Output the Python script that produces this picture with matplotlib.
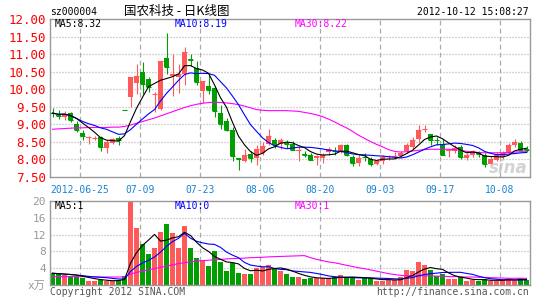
import matplotlib.pyplot as plt
import matplotlib.transforms as mtransforms
import pandas as pd

plt.rcParams['font.family'] = ['DejaVu Sans Mono', 'Noto Sans CJK SC']

######################
## DATOS DEL GRÁFICO ##
######################

fechas_ticks = [5, 15, 25, 35, 45, 55, 65, 75]
etiquetas_fechas = ['2012-06-25', '07-09', '07-23', '08-06', '08-20', '09-03', '09-17', '10-08']

apertura = [9.33, 9.27, 9.20, 9.33, 9.01, 8.76, 8.61, 8.61, 8.64, 8.32,
            8.47, 8.60, 9.41, 9.79, 10.17, 10.48, 10.29, 9.85, 9.44, 10.89,
            10.38, 10.34, 10.44, 10.85, 10.61, 9.94, 10.10, 10.04, 9.32, 9.09,
            8.83, 8.03, 7.95, 8.16, 8.05, 8.18, 8.43, 8.56, 8.45, 8.46,
            8.43, 8.24, 8.15, 8.14, 8.03, 8.05, 8.21, 8.24, 8.21, 8.40,
            8.07, 7.90, 8.08, 8.02, 7.88, 7.95, 8.08, 8.08, 8.09, 8.24,
            8.35, 8.59, 8.87, 8.73, 8.55, 8.45, 8.25, 8.24, 8.35, 8.05,
            8.12, 8.17, 8.12, 7.88, 7.97, 8.07, 8.21, 8.40, 8.47, 8.30]
maximo = [9.47, 9.40, 9.37, 9.35, 9.09, 8.83, 8.68, 8.68, 8.68, 8.54,
          8.62, 8.66, 9.41, 10.35, 10.72, 10.77, 10.34, 9.91, 10.81, 11.59,
          11.00, 10.72, 11.21, 11.00, 10.81, 10.24, 10.44, 10.10, 9.54, 9.19,
          8.92, 8.05, 8.30, 8.24, 8.40, 8.49, 8.87, 8.62, 8.62, 8.56,
          8.52, 8.35, 8.24, 8.18, 8.12, 8.18, 8.35, 8.35, 8.45, 8.45,
          8.12, 8.12, 8.19, 8.07, 7.99, 8.12, 8.14, 8.21, 8.24, 8.47,
          8.64, 8.97, 8.97, 8.73, 8.64, 8.59, 8.30, 8.40, 8.40, 8.18,
          8.28, 8.24, 8.18, 8.09, 8.21, 8.24, 8.47, 8.59, 8.52, 8.37]
minimo = [9.22, 9.15, 9.12, 9.07, 8.78, 8.56, 8.45, 8.56, 8.24, 8.18,
          8.45, 8.40, 9.41, 9.49, 9.87, 9.87, 9.91, 9.35, 9.40, 10.44,
          9.82, 9.89, 10.13, 10.67, 10.13, 9.60, 9.85, 9.20, 8.87, 8.80,
          7.95, 7.69, 7.94, 7.93, 7.83, 8.12, 8.40, 8.33, 8.30, 8.33,
          8.26, 7.95, 8.07, 7.97, 7.83, 7.90, 8.14, 8.14, 8.18, 8.09,
          7.80, 7.80, 7.95, 7.80, 7.83, 7.88, 7.99, 8.02, 8.07, 8.18,
          8.30, 8.49, 8.78, 8.40, 8.40, 8.14, 8.07, 8.18, 8.02, 7.99,
          8.07, 8.07, 7.78, 7.83, 7.95, 8.02, 8.18, 8.35, 8.24, 8.22]
cierre = [9.32, 9.25, 9.30, 9.13, 8.84, 8.66, 8.63, 8.62, 8.35, 8.49,
          8.59, 8.55, 9.41, 10.35, 10.39, 10.15, 10.06, 9.87, 10.81, 10.63,
          10.42, 10.44, 11.05, 10.83, 10.20, 10.22, 9.98, 9.39, 9.00, 8.83,
          8.09, 8.02, 8.14, 8.04, 8.30, 8.37, 8.66, 8.43, 8.56, 8.44,
          8.28, 8.27, 8.14, 7.99, 8.09, 8.14, 8.30, 8.23, 8.40, 8.12,
          7.90, 8.05, 8.07, 7.88, 7.95, 8.07, 8.09, 8.09, 8.18, 8.40,
          8.54, 8.84, 8.88, 8.54, 8.54, 8.14, 8.27, 8.33, 8.07, 8.14,
          8.24, 8.16, 7.86, 8.02, 8.12, 8.18, 8.40, 8.49, 8.26, 8.26]
ma30_precio = [8.86, 8.87, 8.88, 8.89, 8.90, 8.90, 8.91, 8.91, 8.91, 8.91,
               8.92, 8.92, 8.94, 8.98, 9.03, 9.08, 9.13, 9.18, 9.24, 9.30,
               9.36, 9.42, 9.48, 9.53, 9.57, 9.60, 9.62, 9.63, 9.62, 9.61,
               9.59, 9.56, 9.52, 9.47, 9.42, 9.40, 9.39, 9.39, 9.39, 9.39,
               9.38, 9.37, 9.34, 9.31, 9.27, 9.22, 9.15, 9.07, 8.98, 8.90,
               8.80, 8.69, 8.60, 8.51, 8.43, 8.36, 8.28, 8.23, 8.21, 8.22,
               8.24, 8.26, 8.28, 8.29, 8.29, 8.29, 8.29, 8.28, 8.26, 8.23,
               8.21, 8.20, 8.19, 8.19, 8.19, 8.19, 8.20, 8.21, 8.22, 8.22]

volumen = [2.8, 2.6, 2.4, 2.2, 1.8, 1.6, 1.0, 1.0, 1.1, 1.0,
           1.0, 1.2, 2.2, 20.5, 13.6, 9.7, 7.5, 8.9, 12.6, 14.6,
           12.5, 8.9, 14.1, 8.9, 6.5, 6.0, 4.5, 8.1, 5.5, 3.4,
           5.2, 2.9, 2.7, 2.7, 4.1, 4.3, 4.8, 3.7, 3.4, 2.7,
           2.0, 2.0, 1.4, 1.6, 1.6, 1.6, 1.6, 2.0, 2.3, 1.8,
           1.8, 1.2, 1.6, 1.6, 1.0, 1.0, 1.2, 1.2, 1.8, 3.6,
           3.4, 5.5, 4.7, 3.6, 2.2, 2.6, 1.4, 1.4, 1.8, 1.0,
           1.2, 1.0, 1.4, 1.0, 1.0, 1.2, 1.6, 1.0, 1.6, 1.2]
ma30_volumen = [2.0, 2.0, 2.0, 2.0, 2.0, 2.0, 1.95, 1.95, 1.9, 1.9,
                1.9, 1.9, 1.95, 2.6, 3.0, 3.3, 3.6, 3.9, 4.2, 4.5,
                4.8, 5.1, 5.3, 5.5, 5.7, 5.8, 5.9, 6.0, 6.1, 6.2,
                6.3, 6.35, 6.4, 6.5, 6.55, 6.6, 6.7, 6.75, 6.8, 6.85,
                6.9, 6.95, 7.0, 6.5, 6.1, 5.8, 5.5, 5.3, 5.0, 4.7,
                4.4, 4.1, 3.9, 3.6, 3.3, 3.0, 2.7, 2.5, 2.3, 2.2,
                2.2, 2.2, 2.2, 2.2, 2.1, 2.1, 2.0, 2.0, 1.95, 1.9,
                1.9, 1.85, 1.8, 1.75, 1.7, 1.65, 1.6, 1.6, 1.6, 1.6]

rojo = '#ff5a5a'
verde = '#009e00'
gris = '#999999'
rejilla = '#aaaaaa'

df = pd.DataFrame({'o': apertura, 'h': maximo, 'l': minimo, 'c': cierre, 'v': volumen})
dias = list(range(len(df)))
colores = [rojo if c > o else verde for o, c in zip(df['o'], df['c'])]
ma5 = df['c'].rolling(5, min_periods=1).mean()
ma10 = df['c'].rolling(10, min_periods=1).mean()
vma5 = df['v'].rolling(5, min_periods=1).mean()
vma10 = df['v'].rolling(10, min_periods=1).mean()

W, H = 545, 300
fig = plt.figure(figsize=(W / 100, H / 100), dpi=100)
fig.patch.set_facecolor('white')

def px(x, y):
    return x / W, 1 - y / H

off = 2.5 / 6
ax = fig.add_axes([50 / W, 1 - 177 / H, 480 / W, 158 / H])
axv = fig.add_axes([50 / W, 1 - 285 / H, 480 / W, 84 / H])

for a in (ax, axv):
    a.set_xlim(-off, len(dias) - off)
    for s in a.spines.values():
        s.set_color(gris)
        s.set_linewidth(1)
    a.set_xticks([])
    a.tick_params(axis='y', length=0, pad=3)
    for f in fechas_ticks:
        a.axvline(f - off, color=rejilla, lw=0.9, ls=(0, (3.8, 2.6)), zorder=0)

######################
## VELAS ##
######################
ax.set_ylim(7.5, 12.0)
niveles = [7.5 + 0.5 * k for k in range(10)]
for n in niveles[1:-1]:
    ax.axhline(n, color=rejilla, lw=0.9, ls=(0, (0.8, 1.6)), zorder=0)
ax.set_yticks(niveles)
ax.set_yticklabels(['%.2f' % n for n in niveles], color='red', fontsize=9)

ax.vlines(dias, df['l'], df['h'], colors=colores, lw=0.8, zorder=2)
cuerpo = [abs(c - o) for o, c in zip(df['o'], df['c'])]
base = [min(o, c) for o, c in zip(df['o'], df['c'])]
ax.bar(dias, cuerpo, bottom=base, width=0.75, color=colores, lw=0, zorder=3)
ax.hlines(df['c'], [d - 0.375 for d in dias], [d + 0.375 for d in dias], colors=colores, lw=0.8, zorder=3)

ax.plot(dias, ma30_precio, color='#ff00ff', lw=0.8, zorder=4)
ax.plot(dias, ma10, color='#0000ff', lw=0.8, zorder=4)
ax.plot(dias, ma5, color='black', lw=0.8, zorder=4)

ax.text(0.995, 0.06, 'sina', transform=ax.transAxes, ha='right', va='center', fontsize=12,
        family='DejaVu Sans', style='italic', weight='bold', color='#c8c8c8', alpha=0.8, zorder=5)

######################
## VOLUMEN ##
######################
axv.set_ylim(0, 20)
for n in [4, 8, 12, 16]:
    axv.axhline(n, color=rejilla, lw=0.9, ls=(0, (0.8, 1.6)), zorder=0)
axv.set_yticks([0, 4, 8, 12, 16, 20])
axv.set_yticklabels(['x万', '4', '8', '12', '16', '20'], color=gris, fontsize=8)
axv.bar(dias, df['v'], width=0.8, color=colores, lw=0, zorder=2)
axv.plot(dias, ma30_volumen, color='#ff00ff', lw=0.8, zorder=4)
axv.plot(dias, vma10, color='#0000ff', lw=0.8, zorder=4)
axv.plot(dias, vma5, color='black', lw=0.8, zorder=4)

# fechas
trans = mtransforms.blended_transform_factory(ax.transData, fig.transFigure)
for f, t in zip(fechas_ticks, etiquetas_fechas):
    ax.text(f - off, 1 - 190 / H, t, transform=trans, ha='center', va='center',
            fontsize=7, color='#1a84d4')

######################
## TEXTOS ##
######################
fig.text(*px(50, 12), 'sz000004', ha='left', va='center', fontsize=7)
fig.text(*px(177, 11), '国农科技 - 日K线图', ha='center', va='center', fontsize=9,
         family=['Noto Sans CJK SC', 'DejaVu Sans'])
fig.text(*px(529, 12), '2012-10-12 15:08:27', ha='right', va='center', fontsize=7)

fig.text(*px(55, 24), 'MA5:8.32', ha='left', va='center', fontsize=7, color='black')
fig.text(*px(175, 24), 'MA10:8.19', ha='left', va='center', fontsize=7, color='#0000ff')
fig.text(*px(295, 24), 'MA30:8.22', ha='left', va='center', fontsize=7, color='#ff00ff')

fig.text(*px(55, 206), 'MA5:1', ha='left', va='center', fontsize=7, color='black')
fig.text(*px(175, 206), 'MA10:0', ha='left', va='center', fontsize=7, color='#0000ff')
fig.text(*px(295, 206), 'MA30:1', ha='left', va='center', fontsize=7, color='#ff00ff')

fig.text(*px(50, 292), 'Copyright 2012 SINA.COM', ha='left', va='center', fontsize=7, color='#555555')
fig.text(*px(529, 292), 'http://finance.sina.com.cn', ha='right', va='center', fontsize=7, color='#555555')

plt.savefig('out.png', dpi=100)
plt.close()
